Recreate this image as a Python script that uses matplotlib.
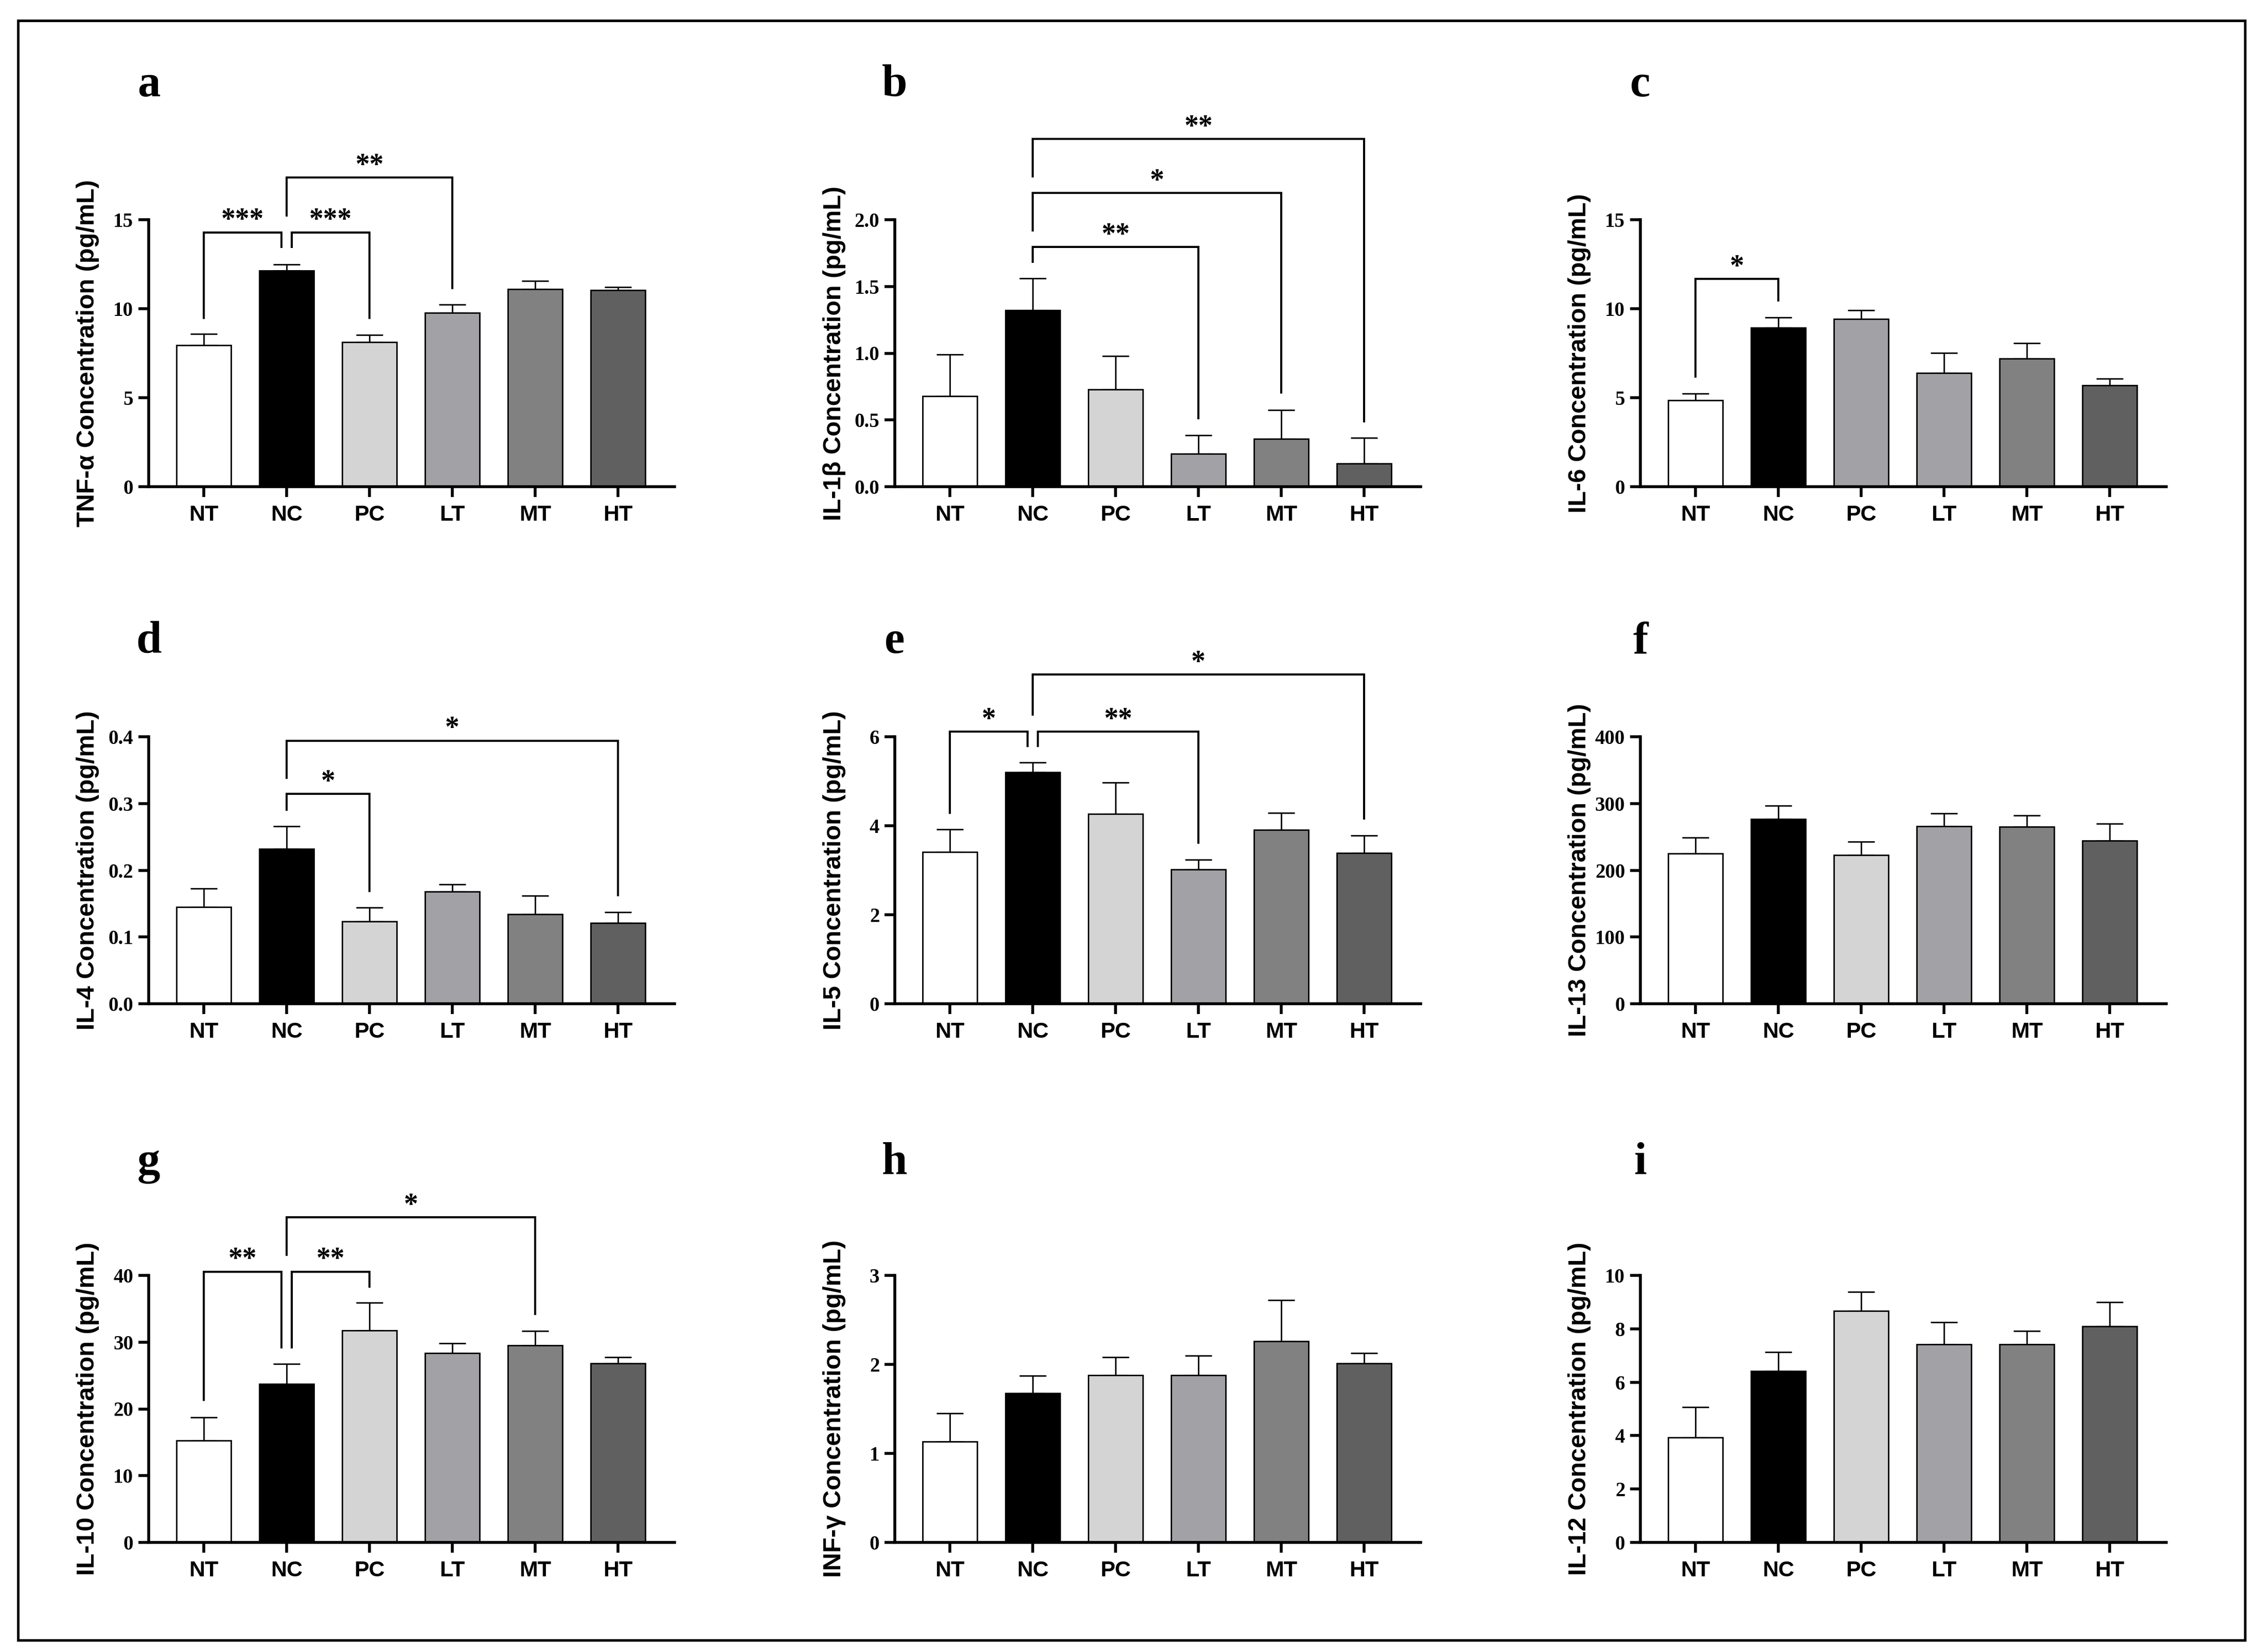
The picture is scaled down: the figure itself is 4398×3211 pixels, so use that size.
import matplotlib
matplotlib.use('Agg')
import matplotlib.pyplot as plt
from matplotlib.patches import Rectangle
import numpy as np

# ---------------- data ----------------
groups = ['NT', 'NC', 'PC', 'LT', 'MT', 'HT']

tnf_mean = [7.95, 12.15, 8.13, 9.76, 11.10, 11.04]
tnf_sem = [0.63, 0.35, 0.39, 0.47, 0.47, 0.18]

il1b_mean = [0.68, 1.32, 0.73, 0.245, 0.36, 0.175]
il1b_sem = [0.31, 0.24, 0.25, 0.14, 0.215, 0.19]

il6_mean = [4.86, 8.93, 9.41, 6.40, 7.20, 5.70]
il6_sem = [0.38, 0.58, 0.49, 1.12, 0.86, 0.38]

il4_mean = [0.145, 0.232, 0.123, 0.168, 0.134, 0.121]
il4_sem = [0.028, 0.034, 0.021, 0.011, 0.028, 0.016]

il5_mean = [3.41, 5.20, 4.27, 3.02, 3.91, 3.39]
il5_sem = [0.51, 0.22, 0.70, 0.22, 0.38, 0.39]

il13_mean = [225, 277, 222.5, 266, 265, 244]
il13_sem = [24, 20, 20, 19.5, 17, 26]

il10_mean = [15.25, 23.73, 31.78, 28.33, 29.52, 26.83]
il10_sem = [3.5, 3.0, 4.1, 1.46, 2.17, 0.93]

infg_mean = [1.133, 1.674, 1.88, 1.877, 2.26, 2.01]
infg_sem = [0.32, 0.20, 0.20, 0.22, 0.46, 0.12]

il12_mean = [3.94, 6.41, 8.67, 7.41, 7.42, 8.09]
il12_sem = [1.12, 0.71, 0.72, 0.835, 0.49, 0.90]

titles = ['TNF-α', 'IL-1β', 'IL-6', 'IL-4', 'IL-5', 'IL-13', 'IL-10', 'INF-γ', 'IL-12']
panel_letters = ['a', 'b', 'c', 'd', 'e', 'f', 'g', 'h', 'i']
y_max = [15, 2.0, 15, 0.4, 6, 400, 40, 3, 10]
y_step = [5, 0.5, 5, 0.1, 2, 100, 10, 1, 2]
y_fmt = ['{:.0f}', '{:.1f}', '{:.0f}', '{:.1f}', '{:.0f}', '{:.0f}', '{:.0f}', '{:.0f}', '{:.0f}']

# significance brackets: (group i, group j, line height, leg i end, leg j end, label)
sig_a = [(0, 1, 14.29, 9.41, 13.41, '***'), (1, 2, 14.29, 13.41, 9.41, '***'),
         (1, 3, 17.36, 15.16, 11.10, '**')]
sig_b = [(1, 3, 1.796, 1.675, 0.503, '**'), (1, 4, 2.199, 1.913, 0.697, '*'),
         (1, 5, 2.604, 2.316, 0.482, '**')]
sig_c = [(0, 1, 11.68, 6.12, 10.40, '*')]
sig_d = [(1, 2, 0.3145, 0.289, 0.1674, '*'), (1, 5, 0.394, 0.337, 0.161, '*')]
sig_e = [(0, 1, 6.113, 4.27, 5.77, '*'), (1, 3, 6.113, 5.77, 3.59, '**'),
         (1, 5, 7.395, 6.478, 4.14, '*')]
sig_g = [(0, 1, 40.57, 21.2, 29.04, '**'), (1, 2, 40.57, 29.04, 38.14, '**'),
         (1, 4, 48.7, 42.96, 34.03, '*')]

bar_colors = ['#ffffff', '#000000', '#d4d4d4', '#a2a1a6', '#818181', '#606060']
bar_colors_c = ['#ffffff', '#000000', '#a2a1a6', '#a2a1a6', '#818181', '#606060']

means = [tnf_mean, il1b_mean, il6_mean, il4_mean, il5_mean, il13_mean, il10_mean, infg_mean, il12_mean]
sems = [tnf_sem, il1b_sem, il6_sem, il4_sem, il5_sem, il13_sem, il10_sem, infg_sem, il12_sem]
sigs = [sig_a, sig_b, sig_c, sig_d, sig_e, [], sig_g, [], []]
colors = [bar_colors, bar_colors, bar_colors_c] + [bar_colors] * 6

# ---------------- layout ----------------
W, H = 4398, 3211
DPI = 100
fig = plt.figure(figsize=(W / DPI, H / DPI), dpi=DPI)
fig.patch.set_facecolor('white')

col_left = [289, 1739, 3188]
row_top = [427, 1432, 2479]
row_bot = [946, 1951, 2998]
label_base = [187, 1269, 2282]
AXW = 1021.5
XLIM = (-0.665, 5.68)

SERIF = ['Liberation Serif', 'DejaVu Serif']
SANS = ['Liberation Sans', 'DejaVu Sans']


def draw_brackets(ax, specs):
    for (i, j, h, yi, yj, lab) in specs:
        xi, xj = float(i), float(j)
        for (i2, j2, h2, *_rest) in specs:
            if abs(h2 - h) < 1e-9:
                if j2 == i:
                    xi = i + 0.0625
                if i2 == j:
                    xj = j - 0.0625
        ax.plot([xi, xi, xj, xj], [yi, h, h, yj], color='black', lw=2.9,
                clip_on=False, solid_joinstyle='miter', solid_capstyle='butt', zorder=5)
        ax.annotate(lab, xy=((xi + xj) / 2, h), xytext=(0, 6), textcoords='offset points',
                    ha='center', va='baseline', fontsize=40, fontweight='bold',
                    family=SERIF, annotation_clip=False)


x = np.arange(len(groups))
for k in range(9):
    r, c = divmod(k, 3)
    left = col_left[c]
    top, bot = row_top[r], row_bot[r]
    ax = fig.add_axes([left / W, 1 - bot / H, AXW / W, (bot - top) / H])
    ax.set_facecolor('none')
    m = np.array(means[k])
    s = np.array(sems[k])
    ax.bar(x, m, width=0.655, color=colors[k], edgecolor='black', linewidth=2.0, zorder=2)
    ax.errorbar(x, m, yerr=[np.zeros_like(s), s], fmt='none', ecolor='black',
                elinewidth=2.0, capsize=18.7, capthick=2.0, zorder=1.5)
    ax.set_xlim(*XLIM)
    ax.set_ylim(0, y_max[k])
    ticks = np.arange(0, y_max[k] + y_step[k] / 2, y_step[k])
    ax.set_yticks(ticks)
    ax.set_yticklabels([y_fmt[k].format(t) for t in ticks], family=SERIF,
                       fontweight='bold', fontsize=28)
    ax.set_xticks(x)
    ax.set_xticklabels(groups, family=SANS, fontweight='bold', fontsize=31)
    for sp in ['top', 'right']:
        ax.spines[sp].set_visible(False)
    for sp in ['left', 'bottom']:
        ax.spines[sp].set_linewidth(4.0)
    ax.tick_params(axis='both', width=4.0, length=14.4, direction='out', color='black')
    ax.tick_params(axis='y', pad=7)
    ax.tick_params(axis='x', pad=11)
    ax.text(-118 / AXW, 0.5, titles[k] + ' Concentration (pg/mL)', transform=ax.transAxes,
            rotation=90, ha='center', va='center', family=SANS, fontweight='bold',
            fontsize=35)
    draw_brackets(ax, sigs[k])
    fig.text(left / W, 1 - label_base[r] / H, panel_letters[k], ha='center', va='baseline',
             family=SERIF, fontweight='bold', fontsize=64)

fig.add_artist(Rectangle((35 / W, 1 - 3188 / H), (4363 - 35) / W, (3188 - 40) / H,
                         transform=fig.transFigure, fill=False, lw=3.6, ec='black'))

fig.savefig('out.png', dpi=DPI, facecolor='white')
